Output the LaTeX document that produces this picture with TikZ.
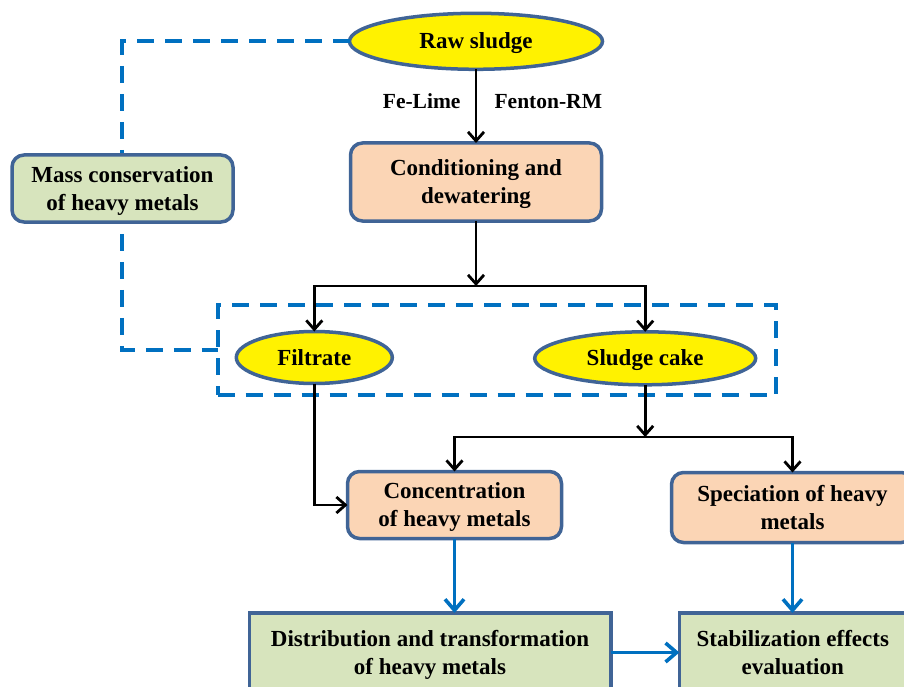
\documentclass[tikz,border=0pt]{standalone}
\usepackage{fontspec}
\newfontfamily\labfont{Liberation Serif}
\usetikzlibrary{arrows.meta,shapes.geometric}
\definecolor{bordc}{RGB}{64,100,150}
\definecolor{peach}{RGB}{251,213,181}
\definecolor{greenf}{RGB}{215,228,189}
\definecolor{bluel}{RGB}{0,112,192}
\newcommand{\twoline}[2]{\begin{tabular}[t]{@{}c@{}}#1\\#2\end{tabular}}
\tikzset{
  txt/.style={font=\labfont\bfseries\fontsize{23}{28}\selectfont, text=black, inner sep=0pt, outer sep=0pt},
  oneline/.style={text height=15.1pt, text depth=0pt},
  twolines/.style={text height=15.1pt, text depth=28pt},
  ell/.style={txt, oneline, ellipse, draw=bordc, line width=3.5pt, fill=yellow},
  peachbox/.style={txt, twolines, draw=bordc, line width=3.5pt, fill=peach, rounded corners=12pt},
  greenbox/.style={txt, twolines, draw=bordc, line width=3.5pt, fill=greenf},
  arr/.style={line width=2.8pt, black, -{Straight Barb[length=9pt,width=16pt,line width=2.8pt]}},
  barr/.style={line width=3.6pt, bluel, -{Straight Barb[length=11pt,width=19pt,line width=3.6pt]}},
  dashline/.style={line width=4pt, bluel, dash pattern=on 17pt off 11pt},
}
\begin{document}
\begin{tikzpicture}[x=1pt,y=-1pt]
\useasboundingbox (0,0) rectangle (904,687);
% dashed group
\node[dashline, draw, minimum width=558.5pt, minimum height=90pt, inner sep=0pt, outer sep=0pt] (grp) at (496.75,350) {};
\coordinate (d2) at (122,350);
% nodes
\node[ell, minimum width=253pt, minimum height=56pt] (raw) at (476,41.3) {Raw sludge};
\draw[dashline] (raw.west) -| (d2) -- (d2 -| grp.west);
\node[txt, font=\labfont\bfseries\fontsize{21.5}{26}\selectfont, text height=14pt, text depth=0pt] (felime) at (421.7,101.7) {Fe-Lime};
\node[txt, font=\labfont\bfseries\fontsize{21.5}{26}\selectfont, text height=14pt, text depth=0pt] (fenton) at (548.3,101.7) {Fenton-RM};
\node[peachbox, minimum width=251pt, minimum height=78pt] (cond) at (476,182) {\twoline{Conditioning and}{dewatering}};
\node[greenbox, rounded corners=12pt, minimum width=221pt, minimum height=67pt] (mass) at (122.5,188.5) {\twoline{Mass conservation}{of heavy metals}};
\node[ell, minimum width=156pt, minimum height=52pt] (filt) at (314.3,357.5) {Filtrate};
\node[ell, minimum width=221pt, minimum height=53pt] (cake) at (645.2,358.3) {Sludge cake};
\node[peachbox, minimum width=214pt, minimum height=67pt] (conc) at (454.5,505) {\twoline{Concentration}{of heavy metals}};
\node[peachbox, minimum width=242pt, minimum height=70pt] (spec) at (792.5,507.5) {\twoline{Speciation of heavy}{metals}};
\node[greenbox, minimum width=361.5pt, minimum height=79pt] (dist) at (430,652.5) {\twoline{Distribution and transformation}{of heavy metals}};
\node[greenbox, minimum width=227pt, minimum height=79pt] (stab) at (792.8,652.5) {\twoline{Stabilization effects}{evaluation}};
% connectors
\coordinate (s1) at (476,286);
\coordinate (s2) at (cake.south |- 0,437);
\draw[arr] (raw.south) -- (cond.north);
\draw[arr] (cond.south) -- (s1);
\draw[arr] (s1) -| (filt.north);
\draw[arr] (s1) -| (cake.north);
\draw[arr] (filt.south) |- (conc.west);
\draw[arr] (cake.south) -- (s2);
\draw[arr] (s2) -| (conc.north);
\draw[arr] (s2) -| (spec.north);
\draw[barr] (conc.south) -- (conc.south |- dist.north);
\draw[barr] (spec.south) -- (spec.south |- stab.north);
\draw[barr] (dist.east) -- (stab.west);
\end{tikzpicture}
\end{document}
